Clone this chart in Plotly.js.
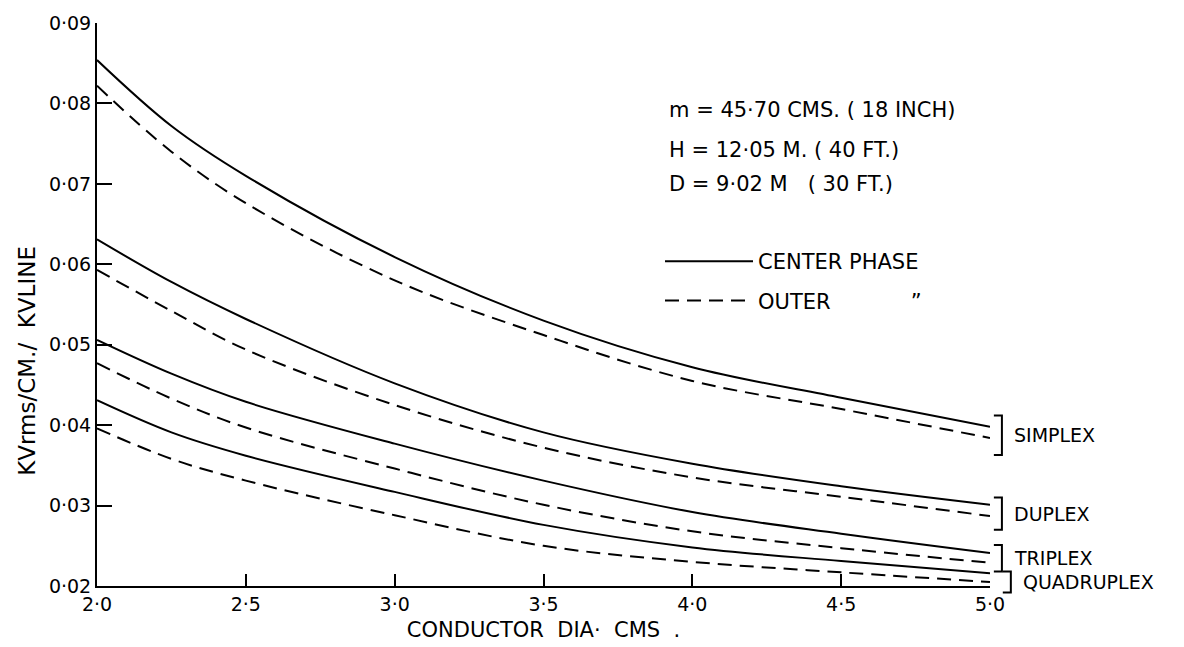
<!DOCTYPE html>
<html>
<head>
<meta charset="utf-8">
<script src="https://cdn.plot.ly/plotly-3.0.1.min.js"></script>
<style>html,body{margin:0;padding:0;background:#fff;}#chart{width:1184px;height:647px;}</style>
</head>
<body>
<div id="chart"></div>
<script>
// Conductor diameter (cms)
const diameter = [2.0, 2.25, 2.5, 3.0, 3.5, 4.0, 4.5, 5.0];

// KVrms/cm per KV line
const simplexCenter   = [0.0854, 0.0772, 0.0710, 0.0609, 0.0530, 0.0472, 0.0434, 0.0398];
const simplexOuter    = [0.0822, 0.0740, 0.0676, 0.0580, 0.0512, 0.0455, 0.0420, 0.0384];
const duplexCenter    = [0.0631, 0.0578, 0.0532, 0.0452, 0.0391, 0.0352, 0.0324, 0.0301];
const duplexOuter     = [0.0593, 0.0542, 0.0494, 0.0425, 0.0372, 0.0335, 0.0311, 0.0287];
const triplexCenter   = [0.0506, 0.0464, 0.0429, 0.0377, 0.0331, 0.0292, 0.0265, 0.0241];
const triplexOuter    = [0.0477, 0.0433, 0.0397, 0.0346, 0.0301, 0.0268, 0.0247, 0.0229];
const quadCenter      = [0.0431, 0.0391, 0.0362, 0.0317, 0.0276, 0.0248, 0.0231, 0.0216];
const quadOuter       = [0.0396, 0.0358, 0.0331, 0.0288, 0.0250, 0.0230, 0.0217, 0.0205];

const groupNames = ["SIMPLEX", "DUPLEX", "TRIPLEX", "QUADRUPLEX"];

const xTickVals  = [2.0, 2.5, 3.0, 3.5, 4.0, 4.5, 5.0];
const xTickText  = ["2·0", "2·5", "3·0", "3·5", "4·0", "4·5", "5·0"];
const yTickVals  = [0.02, 0.03, 0.04, 0.05, 0.06, 0.07, 0.08, 0.09];
const yTickText  = ["0·02", "0·03", "0·04", "0·05", "0·06", "0·07", "0·08", "0·09"];

const FONT = "DejaVu Sans, Arial, sans-serif";
const X0 = 2, X1 = 5, Y0 = 0.02, Y1 = 0.09;
const xp = v => (v - X0) / (X1 - X0);   // data -> paper
const yp = v => (v - Y0) / (Y1 - Y0);

const groups = [
  [simplexCenter, simplexOuter],
  [duplexCenter, duplexOuter],
  [triplexCenter, triplexOuter],
  [quadCenter, quadOuter]
];
// bracket extents beyond the curve ends (layout constants)
const bracketTopPad = [0.0014, 0.0009, 0.0010, 0.0002];
const bracketBotPad = [0.0021, 0.0017, 0.0011, 0.0013];
const bracketX      = [5.04, 5.04, 5.04, 5.07];

const traces = [];
groups.forEach((g, i) => {
  traces.push({
    x: diameter, y: g[0], type: 'scatter', mode: 'lines',
    line: {color: '#000', width: 2, shape: 'spline', smoothing: 1.0},
    name: 'CENTER PHASE', legendgroup: 'c', showlegend: i === 0,
    hoverinfo: 'skip'
  });
  traces.push({
    x: diameter, y: g[1], type: 'scatter', mode: 'lines',
    line: {color: '#000', width: 2, dash: '14px,8px', shape: 'spline', smoothing: 1.0},
    name: 'OUTER\u00A0\u00A0\u00A0\u00A0\u00A0\u00A0\u00A0\u00A0\u00A0\u00A0\u00A0\u00A0\u201D', legendgroup: 'o', showlegend: i === 0,
    hoverinfo: 'skip'
  });
});

const last = diameter.length - 1;
const shapes = [];
const annotations = [];
groups.forEach((g, i) => {
  const top = yp(g[0][last] + bracketTopPad[i]);
  const bot = yp(g[1][last] - bracketBotPad[i]);
  const xv = xp(bracketX[i]);
  const xh = xv - 0.009;
  shapes.push({
    type: 'path', xref: 'paper', yref: 'paper',
    path: `M ${xh} ${top} L ${xv} ${top} L ${xv} ${bot} L ${xh} ${bot}`,
    line: {color: '#000', width: 2}
  });
  annotations.push({
    x: xv + 0.011, y: (top + bot) / 2, xref: 'paper', yref: 'paper',
    text: groupNames[i], showarrow: false, xanchor: 'left', yanchor: 'middle',
    font: {family: FONT, size: 19, color: '#000'}
  });
});

const paramLines = [
  "m = 45·70 CMS. ( 18 INCH)",
  "H = 12·05 M. ( 40 FT.)",
  "D = 9·02 M\u00A0\u00A0 ( 30 FT.)"
];
const paramY = [110, 150, 184];
paramLines.forEach((t, i) => {
  annotations.push({
    x: (667 - 97) / 893, y: (586 - paramY[i]) / 563, xref: 'paper', yref: 'paper',
    text: t, showarrow: false, xanchor: 'left', yanchor: 'middle',
    font: {family: FONT, size: 21, color: '#000'}
  });
});

annotations.push({
  x: 0, xref: 'paper', xshift: -70, y: 0.40, yref: 'paper',
  text: 'KVrms/CM./\u00A0 KVLINE', textangle: -90, showarrow: false,
  xanchor: 'center', yanchor: 'middle',
  font: {family: FONT, size: 23, color: '#000'}
});

const layout = {
  width: 1184, height: 647,
  margin: {l: 97, r: 194, t: 23, b: 61},
  paper_bgcolor: '#fff', plot_bgcolor: '#fff',
  font: {family: FONT, color: '#000'},
  xaxis: {
    range: [X0, X1], showgrid: false, zeroline: false,
    showline: true, linecolor: '#000', linewidth: 2,
    ticks: 'inside', ticklen: 12, tickwidth: 2, tickcolor: '#000',
    tickvals: xTickVals, ticktext: xTickText,
    tickfont: {family: FONT, size: 19, color: '#000'},
    title: {text: 'CONDUCTOR\u00A0 DIA·\u00A0 CMS\u00A0 .', font: {family: FONT, size: 21, color: '#000'}, standoff: 9}
  },
  yaxis: {
    range: [Y0, Y1], showgrid: false, zeroline: false,
    showline: true, linecolor: '#000', linewidth: 2,
    ticks: 'inside', ticklen: 15, tickwidth: 2, tickcolor: '#000',
    tickvals: yTickVals, ticktext: yTickText,
    tickfont: {family: FONT, size: 19, color: '#000'}
  },
  showlegend: true,
  legend: {
    x: (660 - 97) / 893, y: (586 - 241) / 563, xanchor: 'left', yanchor: 'top',
    bgcolor: 'rgba(0,0,0,0)', borderwidth: 0,
    font: {family: FONT, size: 21, color: '#000'},
    itemwidth: 88, tracegroupgap: 9, traceorder: 'grouped'
  },
  shapes: shapes,
  annotations: annotations
};

Plotly.newPlot('chart', traces, layout, {staticPlot: true, displayModeBar: false});
</script>
</body>
</html>
